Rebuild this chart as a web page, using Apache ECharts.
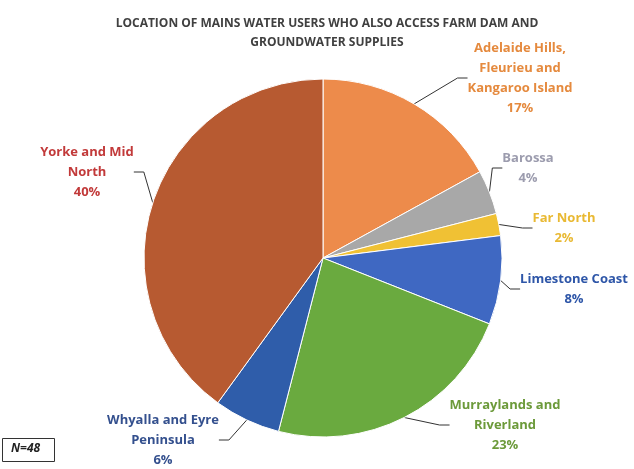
<!DOCTYPE html>
<html>
<head>
<meta charset="utf-8">
<script src="https://cdn.jsdelivr.net/npm/echarts@6/dist/echarts.min.js"></script>
<style>
html,body{margin:0;padding:0;background:#fff;}
#c{width:634px;height:469px;}
</style>
</head>
<body>
<div id="c"></div>
<script>
var categories = [
  "Adelaide Hills,\nFleurieu and\nKangaroo Island",
  "Barossa",
  "Far North",
  "Limestone Coast",
  "Murraylands and\nRiverland",
  "Whyalla and Eyre\nPeninsula",
  "Yorke and Mid\nNorth"
];
var values = [17, 4, 2, 8, 23, 6, 40];
var sliceColors = ["#ED8B4B", "#A8A8A8", "#F0C134", "#3F68C2", "#6AAA3F", "#2F5DAA", "#B75A31"];
var textColors = ["#E58A3E", "#9C9CAE", "#E9B933", "#2E56A8", "#6C9A3A", "#34508E", "#C23A3A"];
var labelPos = [
  [520, 78],
  [528, 168],
  [564, 228],
  [574, 289],
  [505, 425],
  [163, 440],
  [87, 172]
];

var chart = echarts.init(document.getElementById('c'), null, {renderer: 'canvas'});
var data = categories.map(function (n, i) {
  return {
    name: n,
    value: values[i],
    itemStyle: {color: sliceColors[i]},
    label: {color: textColors[i]}
  };
});
chart.setOption({
  animation: false,
  backgroundColor: '#ffffff',
  title: {
    text: 'LOCATION OF MAINS WATER USERS WHO ALSO ACCESS FARM DAM AND\nGROUNDWATER SUPPLIES',
    left: 322,
    top: 9,
    textAlign: 'center',
    textStyle: {
      fontFamily: 'Open Sans',
      fontSize: 12,
      fontWeight: 'bold',
      color: '#404040',
      lineHeight: 19
    }
  },
  graphic: [
    {type: 'rect', left: 2, top: 438, shape: {width: 52, height: 23},
     style: {fill: '#fff', stroke: '#333', lineWidth: 1}},
    {type: 'text', left: 11, top: 443,
     style: {text: 'N=48', font: 'italic bold 12px "Open Sans"', fill: '#222'}}
  ],
  series: [{
    type: 'pie',
    center: [323, 258],
    radius: 179,
    startAngle: 90,
    clockwise: true,
    data: data,
    itemStyle: {borderColor: '#ffffff', borderWidth: 1},
    label: {
      show: true,
      formatter: function (p) { return p.name + '\n' + p.value + '%'; },
      fontFamily: 'Open Sans',
      fontSize: 13,
      fontWeight: 'bold',
      lineHeight: 20,
      align: 'center',
      overflow: 'none',
      edgeDistance: 0,
      bleedMargin: 0
    },
    labelLine: {show: true, length: 10, length2: 10, lineStyle: {color: '#333', width: 1}},
    labelLayout: function (p) {
      var pos = labelPos[p.dataIndex];
      return {x: pos[0], y: pos[1], align: 'center', verticalAlign: 'middle'};
    }
  }]
});
</script>
</body>
</html>
